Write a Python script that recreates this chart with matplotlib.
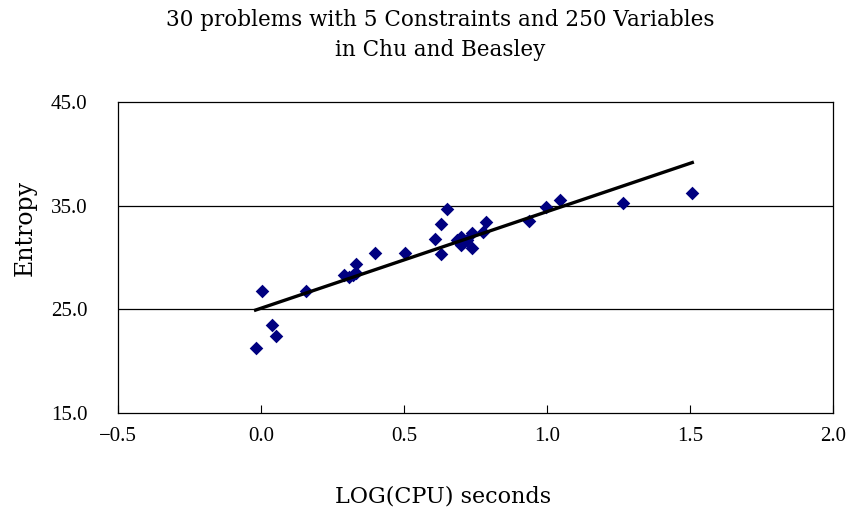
import numpy as np
import matplotlib
matplotlib.use("Agg")
import matplotlib.pyplot as plt

log_cpu = [-0.019, 0.005, 0.040, 0.052, 0.156, 0.291, 0.308, 0.320, 0.332, 0.332,
           0.399, 0.505, 0.608, 0.628, 0.628, 0.651, 0.686, 0.700, 0.700, 0.710,
           0.719, 0.737, 0.739, 0.777, 0.787, 0.938, 0.997, 1.045, 1.267, 1.508]
entropy = [21.25, 26.76, 23.50, 22.40, 26.76, 28.27, 28.10, 28.30, 28.50, 29.40,
           30.40, 30.45, 31.75, 33.20, 30.30, 34.65, 31.70, 32.00, 31.20, 31.50,
           31.70, 32.40, 30.90, 32.50, 33.40, 33.50, 34.90, 35.50, 35.30, 36.20]

xticks = [-0.5, 0.0, 0.5, 1.0, 1.5, 2.0]
yticks = [15.0, 25.0, 35.0, 45.0]

title = "30 problems with 5 Constraints and 250 Variables\nin Chu and Beasley"
xlabel = "LOG(CPU) seconds"
ylabel = "Entropy"

plt.rcParams['font.family'] = ['Liberation Serif', 'DejaVu Serif']

fig = plt.figure(figsize=(8.49, 5.17), dpi=100)
ax = fig.add_axes([118/849, 1-413/517, (833-118)/849, (413-102)/517])

for y in yticks[1:-1]:
    ax.axhline(y, color='black', lw=0.9, zorder=1)

ax.scatter(log_cpu, entropy, marker='D', s=48, color='#000080', zorder=3, linewidths=0)

coef = np.polyfit(log_cpu, entropy, 1)
xs = np.array([min(log_cpu), max(log_cpu)])
ax.plot(xs, np.polyval(coef, xs), color='black', lw=2.4, zorder=4)

ax.set_xlim(-0.5, 2.0)
ax.set_ylim(15, 45)
ax.set_xticks(xticks)
ax.set_xticklabels([f"{v:.1f}".replace('-', '\u2212') for v in xticks])
ax.set_yticks(yticks)
ax.set_yticklabels([f"{v:.1f}" for v in yticks])
ax.tick_params(axis='x', direction='in', length=6, labelsize=15, pad=10, width=0.8)
ax.tick_params(axis='y', length=0, labelsize=15, pad=22)
for s in ax.spines.values():
    s.set_linewidth(0.9)
    s.set_color('black')

lab_font = {'family': 'DejaVu Serif'}
fig.text(440/849, 1-35/517, title, ha='center', va='center', fontsize=15.5,
         linespacing=1.45, fontdict=lab_font)
fig.text(443/849, 1-497/517, xlabel, ha='center', va='center', fontsize=16, fontdict=lab_font)
fig.text(25/849, 1-228/517, ylabel, ha='center', va='center', fontsize=17,
         rotation=90, fontdict=lab_font)

fig.savefig("out.png", dpi=100)
